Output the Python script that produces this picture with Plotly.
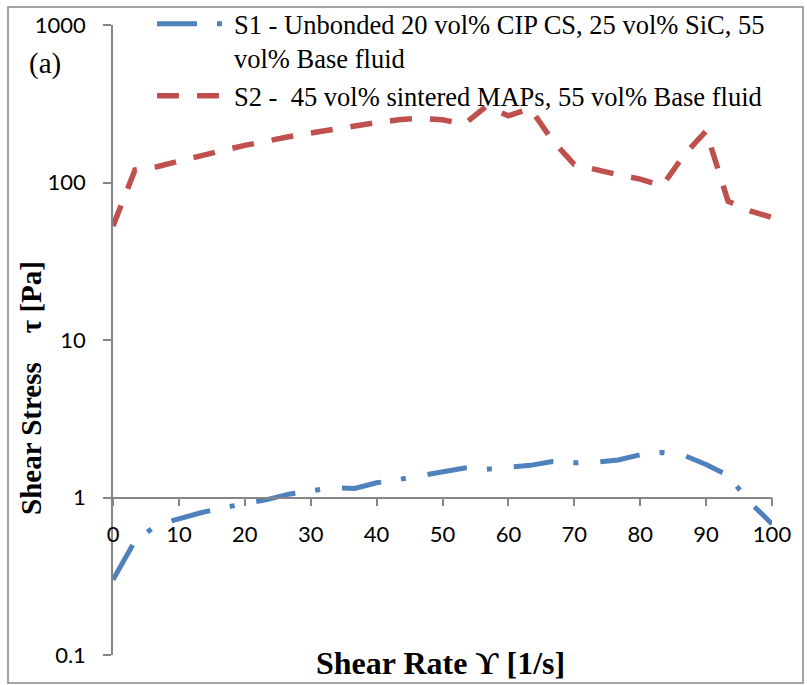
import plotly.graph_objects as go

# Shear rate sampling points [1/s]
shear_rate = [0, 3.33, 6.67, 10, 13.33, 16.67, 20, 23.33, 26.67, 30, 33.33,
              36.67, 40, 43.33, 46.67, 50, 53.33, 56.67, 60, 63.33, 66.67,
              70, 73.33, 76.67, 80, 83.33, 86.67, 90, 93.33, 96.67, 100]

# Shear stress [Pa]
s1_stress = [0.30, 0.53, 0.67, 0.735, 0.80, 0.86, 0.91, 0.97, 1.05, 1.11, 1.155,
             1.14, 1.24, 1.30, 1.37, 1.46, 1.54, 1.51, 1.56, 1.60, 1.69,
             1.66, 1.68, 1.73, 1.87, 1.93, 1.85, 1.62, 1.38, 0.93, 0.68]
s2_stress = [53, 120, 126, 137, 148, 160, 172, 184, 195, 206, 218,
             229, 240, 250, 256, 250, 235, 305, 265, 295, 185,
             130, 120, 112, 105, 95, 150, 212, 76, 66, 60]

s1_name = "S1 - Unbonded 20 vol% CIP CS, 25 vol% SiC, 55<br>vol% Base fluid"
s2_name = "S2 -\u00a0\u00a045 vol% sintered MAPs, 55 vol% Base fluid"

x_ticks = [0, 10, 20, 30, 40, 50, 60, 70, 80, 90, 100]
y_ticks = [0.1, 1, 10, 100, 1000]
y_tick_text = ["0.1", "1", "10", "100", "1000"]

BLUE = "#4F81BD"
RED = "#C0504D"
AXIS = "#868686"

# plot area in pixels
L, R, T, B = 113, 772, 25, 655
W, H = R - L, B - T


def px(xp):
    return (xp - L) / W


def py(yp):
    return (B - yp) / H


fig = go.Figure()
fig.add_trace(go.Scatter(
    x=shear_rate, y=s1_stress, mode="lines", name=s1_name, legendgroup="s1",
    line=dict(color=BLUE, width=5, dash="40px,20px,5px,22px"),
))
fig.add_trace(go.Scatter(
    x=shear_rate, y=s2_stress, mode="lines", name=s2_name, legendgroup="s2",
    line=dict(color=RED, width=5.5, dash="22px,18px"),
))

tick_font = dict(family="Lato", size=22, color="#000000")

fig.update_layout(
    width=807, height=685,
    margin=dict(l=L, r=807 - R, t=T, b=685 - B, autoexpand=False),
    paper_bgcolor="white", plot_bgcolor="white",
    showlegend=True,
    legend=dict(
        x=px(152), y=py(0), xanchor="left", yanchor="top",
        font=dict(family="Liberation Serif", size=26.5, color="#000000"),
        bgcolor="rgba(0,0,0,0)", valign="top", itemwidth=72,
        tracegroupgap=0,
    ),
    xaxis=dict(
        range=[0, 100], tickvals=x_ticks, ticktext=[str(v) for v in x_ticks],
        anchor="free", position=0.25,
        showline=True, linecolor=AXIS, linewidth=1.5,
        ticks="outside", ticklen=8, tickcolor=AXIS, tickwidth=1.5,
        ticklabelstandoff=9,
        showgrid=False, zeroline=False, tickfont=tick_font,
    ),
    yaxis=dict(
        type="log", range=[-1, 3], tickvals=y_ticks, ticktext=y_tick_text,
        showline=True, linecolor=AXIS, linewidth=1.5,
        ticks="outside", ticklen=8, tickcolor=AXIS, tickwidth=1.5,
        ticklabelstandoff=13,
        showgrid=False, zeroline=False, tickfont=tick_font,
    ),
    shapes=[dict(
        type="rect", xref="paper", yref="paper",
        x0=px(8), x1=px(803), y0=py(683), y1=py(7),
        line=dict(color=AXIS, width=1.5), layer="below",
    )],
    annotations=[
        dict(text="<b>Shear Rate \u03d2 [1/s]</b>", xref="paper", yref="paper",
             x=px(440), y=py(663),
             xanchor="center", yanchor="middle", showarrow=False,
             font=dict(family="Liberation Serif", size=32, color="#000000")),
        dict(text="<b>Shear Stress\u00a0\u00a0\u00a0\u00a0\u03c4 [Pa]</b>",
             xref="paper", yref="paper",
             x=px(31), y=py(388), textangle=-90,
             xanchor="center", yanchor="middle", showarrow=False,
             font=dict(family="Liberation Serif", size=29, color="#000000")),
        dict(text="(a)", xref="paper", yref="paper",
             x=px(45), y=py(63),
             xanchor="center", yanchor="middle", showarrow=False,
             font=dict(family="Liberation Serif", size=29, color="#000000")),
    ],
)

fig.write_html("out.html")
